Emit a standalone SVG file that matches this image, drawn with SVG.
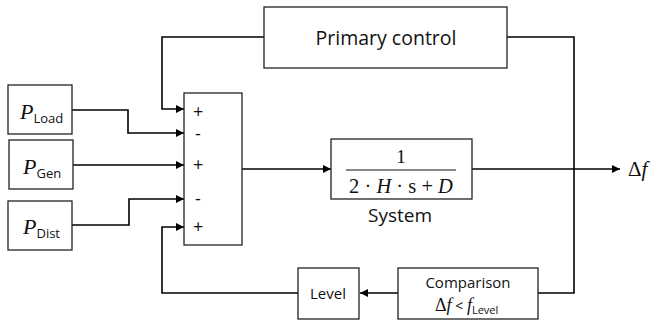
<svg xmlns="http://www.w3.org/2000/svg" width="659" height="322" viewBox="0 0 659 322">
<style>
.box{fill:#fff;stroke:#222;stroke-width:1.3}
.ln{fill:none;stroke:#000;stroke-width:1.6}
.t{font-family:"Open Sans","Liberation Sans",sans-serif;fill:#111}
.m{font-family:"Liberation Serif","DejaVu Serif",serif;fill:#111}
.mi{font-family:"Liberation Serif","DejaVu Serif",serif;font-style:italic;fill:#111}
</style>
<defs>
<marker id="ar" viewBox="0 0 10 10" refX="10" refY="5" markerWidth="8" markerHeight="8" markerUnits="userSpaceOnUse" orient="auto">
<path d="M0,0 L10,5 L0,10 z" fill="#000"/>
</marker>
</defs>
<g id="connectors">
<path class="ln" d="M264,37 H162 V109 H184" marker-end="url(#ar)"/>
<path class="ln" d="M72,110 H128 V133 H184" marker-end="url(#ar)"/>
<path class="ln" d="M73,165 H184" marker-end="url(#ar)"/>
<path class="ln" d="M72,225 H129 V199 H184" marker-end="url(#ar)"/>
<path class="ln" d="M298,293 H162 V227 H184" marker-end="url(#ar)"/>
<path class="ln" d="M242,169 H331" marker-end="url(#ar)"/>
<path class="ln" d="M472,169 H620" marker-end="url(#ar)"/>
<path class="ln" d="M507,37 H574 V293 H538"/>
<path class="ln" d="M398,293 H360" marker-end="url(#ar)"/>
</g>
<g id="primary">
<rect class="box" x="264" y="7" width="243" height="61"/>
<text class="t" x="386" y="45" font-size="19.5" text-anchor="middle">Primary control</text>
</g>
<g id="pload">
<rect class="box" x="8" y="85" width="64" height="49"/>
<text x="20" y="119"><tspan class="mi" font-size="22">P</tspan><tspan class="t" font-size="13" dy="4">Load</tspan></text>
</g>
<g id="pgen">
<rect class="box" x="9" y="140" width="64" height="49"/>
<text x="23" y="174"><tspan class="mi" font-size="22">P</tspan><tspan class="t" font-size="13" dy="4">Gen</tspan></text>
</g>
<g id="pdist">
<rect class="box" x="8" y="201" width="64" height="49"/>
<text x="23" y="234"><tspan class="mi" font-size="22">P</tspan><tspan class="t" font-size="13" dy="4">Dist</tspan></text>
</g>
<g id="sum">
<rect class="box" x="184" y="93" width="58" height="152"/>
<g class="t" font-size="18">
<text x="193" y="118">+</text>
<text x="195" y="140">-</text>
<text x="193" y="171">+</text>
<text x="195" y="205">-</text>
<text x="193" y="233">+</text>
</g>
</g>
<g id="system">
<rect class="box" x="331" y="139" width="141" height="60"/>
<text class="m" x="401" y="163" font-size="19" text-anchor="middle">1</text>
<line x1="346" y1="170" x2="456" y2="170" stroke="#111" stroke-width="1.2"/>
<text x="401" y="193" font-size="20.5" text-anchor="middle"><tspan class="m">2 · </tspan><tspan class="mi">H</tspan><tspan class="m"> · s + </tspan><tspan class="mi">D</tspan></text>
<text class="t" x="400" y="222" font-size="19" text-anchor="middle">System</text>
</g>
<g id="deltaf">
<text x="628" y="176" font-size="21"><tspan class="m">Δ</tspan><tspan class="mi">f</tspan></text>
</g>
<g id="comparison">
<rect class="box" x="398" y="268" width="140" height="51"/>
<text class="t" x="468" y="288" font-size="15" text-anchor="middle">Comparison</text>
<text x="435" y="311"><tspan class="m" font-size="18">Δ</tspan><tspan class="mi" font-size="18">f</tspan><tspan class="t" font-size="14"> &lt; </tspan><tspan class="mi" font-size="18">f</tspan><tspan class="t" font-size="11" dy="3">Level</tspan></text>
</g>
<g id="level">
<rect class="box" x="298" y="268" width="61" height="51"/>
<text class="t" x="328" y="299" font-size="15" text-anchor="middle">Level</text>
</g>
</svg>
